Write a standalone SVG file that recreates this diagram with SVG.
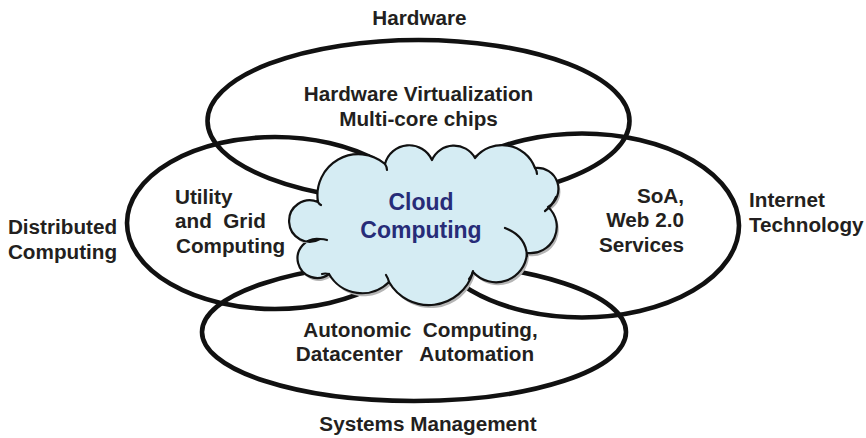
<svg xmlns="http://www.w3.org/2000/svg" width="866" height="438" viewBox="0 0 866 438">
  <style>
    .ring { fill: none; stroke: #111; stroke-width: 4.6; }
    .lbl { font-family: "Liberation Sans", Arial, sans-serif; font-weight: bold; font-size: 20.7px; fill: #231f20; }
    .mid { text-anchor: middle; }
    .end { text-anchor: end; }
    .cloud-body { fill: #d5ecf3; stroke: #111; stroke-width: 2.2; stroke-linejoin: round; }
    .cloud-shadow { fill: #b5b5b5; }
    .tail { fill: none; stroke: #111; stroke-width: 2.2; stroke-linecap: round; }
    .cloud-lbl { font-family: "Liberation Sans", Arial, sans-serif; font-weight: bold; font-size: 23px; fill: #272c78; text-anchor: middle; }
  </style>
  <defs>
    <path id="cloudShape" d="M318,202 A41,41 0 0 1 385,164 A25,25 0 0 1 432,160 A24,24 0 0 1 475,158 A35,35 0 0 1 535,168 A21,21 0 0 1 548,207 A26.5,26.5 0 0 1 527,253 A31,31 0 0 1 473,272 A46,46 0 0 1 389,282 A38,38 0 0 1 329,274 A19.6,19.6 0 1 1 320,239 A20.7,20.7 0 1 1 318,202 Z"/>
  </defs>
  <rect width="866" height="438" fill="#fff"/>

  <!-- Hardware -->
  <g id="hardware">
    <ellipse class="ring" cx="418.5" cy="121" rx="211" ry="81"/>
    <text class="lbl mid" x="419.5" y="25">Hardware</text>
    <text class="lbl mid" x="418.5" y="101">Hardware Virtualization</text>
    <text class="lbl mid" x="418.5" y="126">Multi-core chips</text>
  </g>

  <!-- Distributed Computing -->
  <g id="distributed">
    <ellipse class="ring" cx="275" cy="223" rx="148" ry="86"/>
    <text class="lbl mid" x="62.5" y="234">Distributed</text>
    <text class="lbl mid" x="62.5" y="259">Computing</text>
    <text class="lbl" x="175" y="204">Utility</text>
    <text class="lbl" x="175" y="228" xml:space="preserve">and  Grid</text>
    <text class="lbl" x="176" y="253">Computing</text>
  </g>

  <!-- Internet Technology -->
  <g id="internet">
    <ellipse class="ring" cx="582" cy="225.5" rx="157" ry="92"/>
    <text class="lbl" x="749" y="207">Internet</text>
    <text class="lbl" x="749" y="232">Technology</text>
    <text class="lbl end" x="684" y="203">SoA,</text>
    <text class="lbl end" x="684" y="227">Web 2.0</text>
    <text class="lbl end" x="684" y="252">Services</text>
  </g>

  <!-- Systems Management -->
  <g id="systems">
    <ellipse class="ring" cx="414" cy="332" rx="212" ry="69"/>
    <text class="lbl mid" x="420.5" y="336.5" xml:space="preserve">Autonomic  Computing,</text>
    <text class="lbl mid" x="415" y="360.5" xml:space="preserve">Datacenter   Automation</text>
    <text class="lbl mid" x="428" y="431">Systems Management</text>
  </g>

  <!-- Cloud Computing -->
  <g id="cloud">
    <use href="#cloudShape" class="cloud-shadow" transform="translate(2,3)"/>
    <use href="#cloudShape" class="cloud-body"/>
    <path class="tail" d="M385,164 Q387,167 387,170"/>
    <path class="tail" d="M535,168 Q537,171 537,174"/>
    <path class="tail" d="M556,197 Q552,206 545,211"/>
    <path class="tail" d="M505,228 Q526,236 527,256"/>
    <path class="tail" d="M473,271 Q472,276 469,279"/>
    <path class="tail" d="M389,282 Q388,278 386,275"/>
    <path class="tail" d="M329,274 Q325,273 322,274"/>
    <path class="tail" d="M320,239 Q324,239 327,240"/>
    <path class="tail" d="M318,202 Q319,204 321,205"/>
    <text class="cloud-lbl" x="421" y="210">Cloud</text>
    <text class="cloud-lbl" x="421" y="238">Computing</text>
  </g>
</svg>
